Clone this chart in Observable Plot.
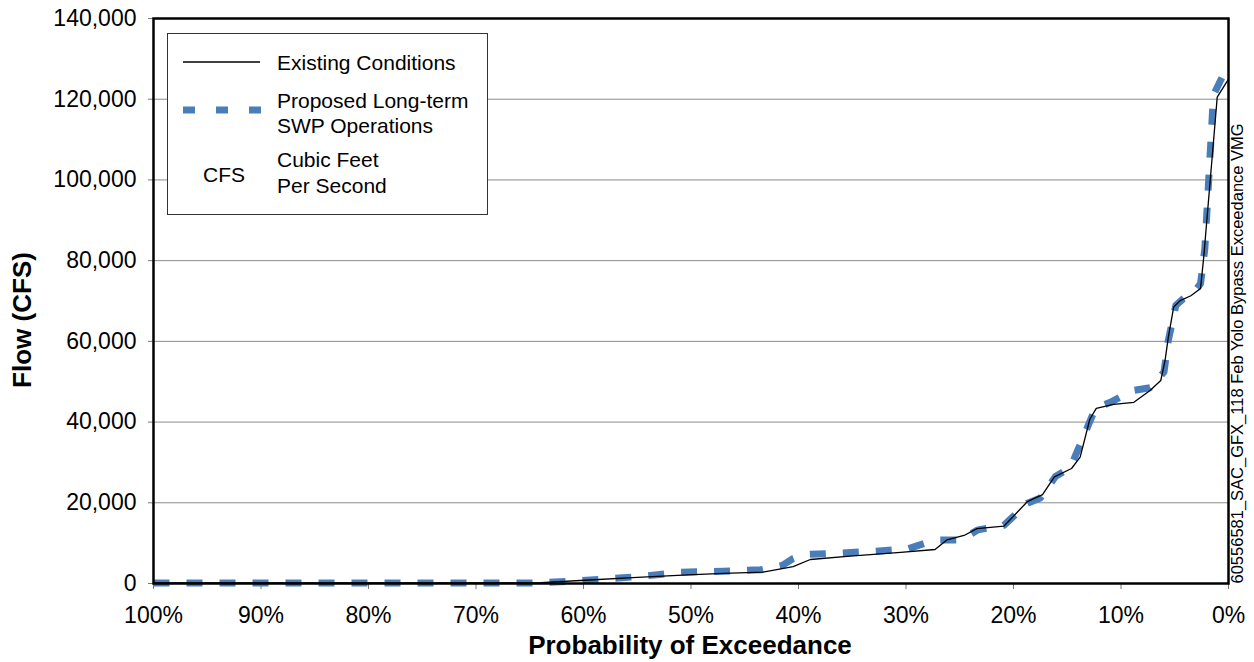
<!DOCTYPE html>
<html>
<head>
<meta charset="utf-8">
<script src="https://cdn.jsdelivr.net/npm/d3@7"></script>
<script src="https://cdn.jsdelivr.net/npm/@observablehq/plot@0.6"></script>
<style>
  html, body { margin: 0; padding: 0; background: #fff; }
  #chart { width: 1254px; height: 662px; }
</style>
</head>
<body>
<div id="chart"></div>
<script>
// ---- Data ----
const existingPct = [100, 90, 80, 70, 64, 60.3, 55, 50.3, 47, 43.3, 40.5, 38.9, 35.2, 30.5, 27.3, 26.2, 24.6, 23.4, 20.9, 18.7, 17.3, 16.2, 14.6, 13.8, 12.9, 12.3, 10.7, 8.8, 7.3, 6.3, 5.9, 5.6, 5.1, 4.5, 3.5, 2.6, 2.3, 1.05, 0];
const existingFlow = [150, 150, 150, 150, 200, 740, 1500, 2150, 2500, 2800, 4200, 5950, 6770, 7700, 8420, 10800, 11900, 13600, 14200, 20300, 22000, 26400, 28500, 31300, 40700, 43400, 44400, 44900, 47800, 50300, 55300, 61000, 68500, 70100, 71300, 73100, 81000, 120500, 125000];

const proposedPct = [100, 64.2, 61, 57.8, 54.7, 51, 47, 43.5, 41.5, 40.5, 39.5, 36.4, 32.8, 29.8, 27.3, 24.9, 23.3, 20.9, 18.7, 17.5, 16.1, 14.7, 13.5, 12.4, 11, 8.9, 7.3, 6, 5.6, 4.9, 4.2, 3.1, 2.6, 2.2, 1.8, 1.4, 0.5, 0];
const proposedFlow = [150, 150, 570, 1160, 1740, 2800, 3050, 3400, 4500, 6200, 7200, 7500, 8000, 8600, 10800, 10800, 13300, 14400, 19900, 21200, 26500, 28800, 36300, 43300, 44900, 47800, 48500, 52400, 60200, 68900, 70600, 72600, 74300, 83000, 102000, 121000, 126000, 126500];

const xTicks = [100, 90, 80, 70, 60, 50, 40, 30, 20, 10, 0];
const yTicks = [0, 20000, 40000, 60000, 80000, 100000, 120000, 140000];
const gridTicks = [20000, 40000, 60000, 80000, 100000, 120000];

const seriesNames = ["Existing Conditions", "Proposed Long-term SWP Operations"];
const xTitle = "Probability of Exceedance";
const yTitle = "Flow (CFS)";
const sideNote = "60556581_SAC_GFX_118 Feb Yolo Bypass Exceedance VMG";

const existing = existingPct.map((p, i) => ({p, flow: existingFlow[i], series: seriesNames[0]}));
const proposed = proposedPct.map((p, i) => ({p, flow: proposedFlow[i], series: seriesNames[1]}));

const FONT = "'Liberation Sans', Arial, Helvetica, sans-serif";
const BLUE = "#4a7ebb";

const chart = Plot.plot({
  width: 1254,
  height: 662,
  marginLeft: 153,
  marginRight: 26,
  marginTop: 18,
  marginBottom: 79,
  style: {fontFamily: FONT, fontSize: "22px", color: "#000", background: "#fff", overflow: "visible"},
  x: {domain: [100, 0], label: null},
  y: {domain: [0, 140000], label: null},
  marks: [
    Plot.gridY(gridTicks, {stroke: "#8a8a8a", strokeOpacity: 1, strokeWidth: 1}),
    Plot.axisX(xTicks, {tickSize: 6, tickPadding: 17, fontSize: 23, tickFormat: d => d + "%", label: null, stroke: "#777"}),
    Plot.axisY(yTicks, {tickSize: 5, tickPadding: 12, fontSize: 23, tickFormat: d3.format(","), label: null, stroke: "#777"}),
    Plot.line(proposed, {x: "p", y: "flow", stroke: BLUE, strokeWidth: 7, strokeDasharray: "16,17", strokeLinecap: "butt", curve: "linear"}),
    Plot.line(existing, {x: "p", y: "flow", stroke: "#000", strokeWidth: 1.3, curve: "linear"}),
    Plot.frame({stroke: "#000", strokeWidth: 2.5}),
    Plot.text([sideNote], {frameAnchor: "bottom-right", dx: 14, rotate: -90, textAnchor: "start", fontSize: 16.5, fill: "#000"})
  ]
});

const svg = d3.select(chart);

// ---- Axis titles ----
svg.append("text")
  .attr("x", 690).attr("y", 654)
  .attr("text-anchor", "middle").attr("font-family", FONT)
  .attr("font-size", 26).attr("font-weight", "bold").attr("fill", "#000")
  .text(xTitle);
svg.append("text")
  .attr("transform", "translate(31,320) rotate(-90)")
  .attr("text-anchor", "middle").attr("font-family", FONT)
  .attr("font-size", 26).attr("font-weight", "bold").attr("fill", "#000")
  .text(yTitle);

// ---- Legend box (drawn inside the SVG) ----
const lg = svg.append("g").attr("font-family", FONT).attr("font-size", 21).attr("fill", "#000").attr("text-anchor", "start");
lg.append("rect").attr("x", 167.5).attr("y", 33.5).attr("width", 320).attr("height", 181)
  .attr("fill", "#fff").attr("stroke", "#333").attr("stroke-width", 1);
lg.append("line").attr("x1", 183).attr("x2", 260).attr("y1", 62).attr("y2", 62)
  .attr("stroke", "#000").attr("stroke-width", 1.3);
lg.append("line").attr("x1", 183).attr("x2", 261).attr("y1", 110).attr("y2", 110)
  .attr("stroke", BLUE).attr("stroke-width", 7).attr("stroke-dasharray", "12,21");
lg.append("text").attr("x", 277).attr("y", 70).text("Existing Conditions");
lg.append("text").attr("x", 277).attr("y", 108).text("Proposed Long-term");
lg.append("text").attr("x", 277).attr("y", 133).text("SWP Operations");
lg.append("text").attr("x", 203).attr("y", 181.5).text("CFS");
lg.append("text").attr("x", 277).attr("y", 167).text("Cubic Feet");
lg.append("text").attr("x", 277).attr("y", 193).text("Per Second");

document.getElementById("chart").appendChild(chart);
</script>
</body>
</html>
